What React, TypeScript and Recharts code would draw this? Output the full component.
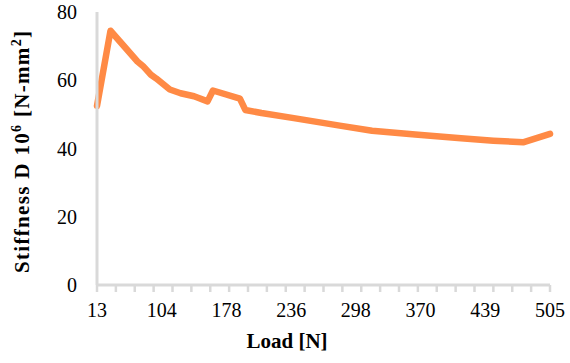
import { Label, Line, LineChart, XAxis, YAxis } from "recharts";

// category labels shown on the load axis (every 24th category)
const loadLabels = ["13", "104", "178", "236", "298", "370", "439", "505"];

// category position of each kink in the curve, and the stiffness there
const pointIndex = [0, 5, 15, 17, 20, 22, 27, 31, 36, 41, 43, 53, 55, 61, 73, 90, 102, 118, 135, 147, 158, 168];
const stiffness = [
  52.5, 74.5, 65.5, 64.2, 61.6, 60.5, 57.3, 56.2, 55.3, 53.8, 57.0,
  54.6, 51.3, 50.4, 48.9, 46.7, 45.2, 44.1, 43.0, 42.3, 41.8, 44.3,
];

const yTicks = [0, 20, 40, 60, 80];

const LAST_CATEGORY = 168;
const LABEL_STEP = 24;
const TICK_STEP = 7;

// tick marks every 7 categories, labels every 24 (excel-style separate intervals)
const xTicks = Array.from({ length: LAST_CATEGORY + 1 }, (_, i) => i).filter(
  (i) => i % TICK_STEP === 0 || i % LABEL_STEP === 0
);

const data = pointIndex.map((idx, i) => ({ idx, stiffness: stiffness[i] }));

const FONT = "'Liberation Serif', 'DejaVu Serif', serif";
const AXIS_GREY = "#d9d9d9";

function LoadTick(props: any) {
  const { x, y, payload } = props;
  const v = payload.value as number;
  return (
    <g>
      {v % TICK_STEP === 0 && <line x1={x} x2={x} y1={y - 2} y2={y + 5} stroke={AXIS_GREY} strokeWidth={2.5} />}
      {v % LABEL_STEP === 0 && (
        <text x={x} y={y + 30} textAnchor="middle" fontFamily={FONT} fontSize={20} fill="#000">
          {loadLabels[v / LABEL_STEP]}
        </text>
      )}
    </g>
  );
}

export default function App() {
  return (
    <div style={{ position: "absolute", left: 0, top: 0, background: "#fff" }}>
      <LineChart width={570} height={363} data={data} margin={{ top: 12, right: 20, bottom: 0, left: 0 }}>
        <XAxis
          dataKey="idx"
          type="number"
          domain={[0, LAST_CATEGORY]}
          ticks={xTicks}
          interval={0}
          height={78}
          axisLine={{ stroke: AXIS_GREY, strokeWidth: 3 }}
          tickLine={false}
          tickSize={0}
          tick={<LoadTick />}
        >
          <Label
            content={() => (
              <text x={287} y={348} textAnchor="middle" fontFamily={FONT} fontSize={21} fontWeight="bold" fill="#000">
                Load [N]
              </text>
            )}
          />
        </XAxis>
        <YAxis
          width={97}
          domain={[0, 80]}
          ticks={yTicks}
          tickLine={false}
          axisLine={{ stroke: AXIS_GREY, strokeWidth: 3 }}
          tickMargin={14}
          tick={{ fill: "#000", fontSize: 20, fontFamily: FONT }}
        >
          <Label
            content={() => (
              <text
                x={0}
                y={0}
                transform="translate(29,152) rotate(-90)"
                textAnchor="middle"
                fontFamily={FONT}
                fontSize={21}
                fontWeight="bold"
                fill="#000"
                textLength={242}
                lengthAdjust="spacing"
              >
                Stiffness D 10
                <tspan dy={-8} fontSize={14}>6</tspan>
                <tspan dy={8}> [N-mm</tspan>
                <tspan dy={-8} fontSize={14}>2</tspan>
                <tspan dy={8}>]</tspan>
              </text>
            )}
          />
        </YAxis>
        <Line
          type="linear"
          dataKey="stiffness"
          stroke="#ff8a45"
          strokeWidth={6.5}
          strokeLinejoin="round"
          strokeLinecap="round"
          dot={false}
          isAnimationActive={false}
        />
      </LineChart>
    </div>
  );
}
